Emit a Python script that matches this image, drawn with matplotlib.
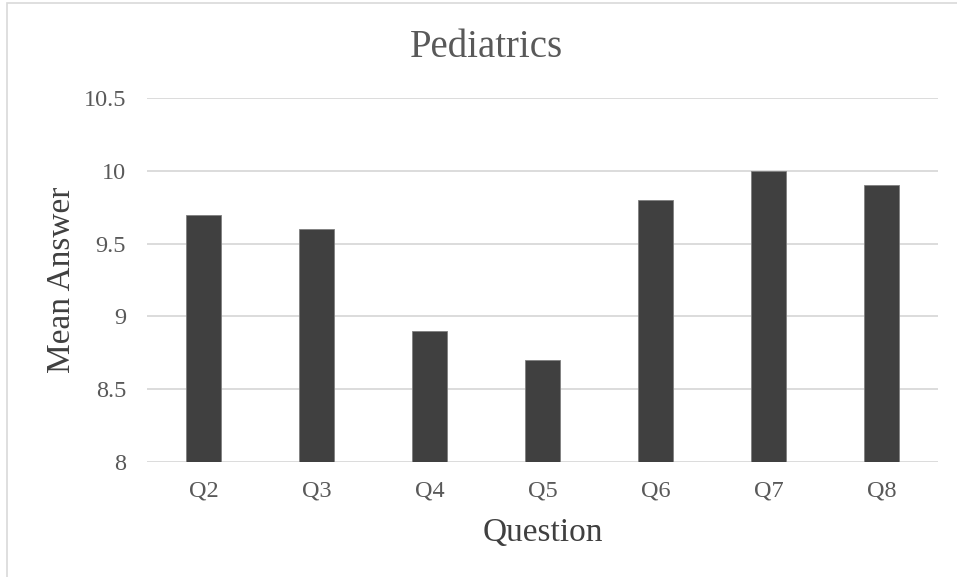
import matplotlib.pyplot as plt
from matplotlib.patches import Rectangle

# data
questions = ["Q2", "Q3", "Q4", "Q5", "Q6", "Q7", "Q8"]
mean_answer = [9.7, 9.6, 8.9, 8.7, 9.8, 10.0, 9.9]

plt.rcParams["font.family"] = ["Liberation Serif", "DejaVu Serif"]

fig = plt.figure(figsize=(9.57, 5.77), dpi=100)
ax = fig.add_axes([0.1536, 0.1993, 0.8264, 0.6307])

x = range(len(questions))
ax.bar(x, mean_answer, width=0.31, bottom=0, color="#404040",
       edgecolor="#7f7f7f", linewidth=0.6, zorder=3)

ax.set_ylim(8, 10.5)
ax.set_xlim(-0.5, len(questions) - 0.5)
ax.set_yticks([8, 8.5, 9, 9.5, 10, 10.5])
ax.set_yticklabels(["8", "8.5", "9", "9.5", "10", "10.5"])
ax.set_xticks(list(x))
ax.set_xticklabels(questions)

ax.grid(axis="y", color="#d9d9d9", linewidth=1.3, zorder=0)
for s in ax.spines.values():
    s.set_visible(False)
ax.tick_params(axis="both", length=0, labelsize=17.5, colors="#595959")
ax.tick_params(axis="x", pad=13)
ax.tick_params(axis="y", pad=15)

ax.set_xlabel("Question", fontsize=24, color="#404040", labelpad=12)
ax.set_ylabel("Mean Answer", fontsize=24, color="#404040", labelpad=5)
fig.text(486 / 957, 1 - 57 / 577, "Pediatrics", fontsize=28, color="#595959",
         ha="center", va="baseline")

# chart border
fig.patches.append(Rectangle((7 / 957, -0.01), 1.0, 1 - 3 / 577 + 0.01,
                             transform=fig.transFigure, fill=False,
                             edgecolor="#d9d9d9", linewidth=1.2))

fig.savefig("out.png", dpi=100)
